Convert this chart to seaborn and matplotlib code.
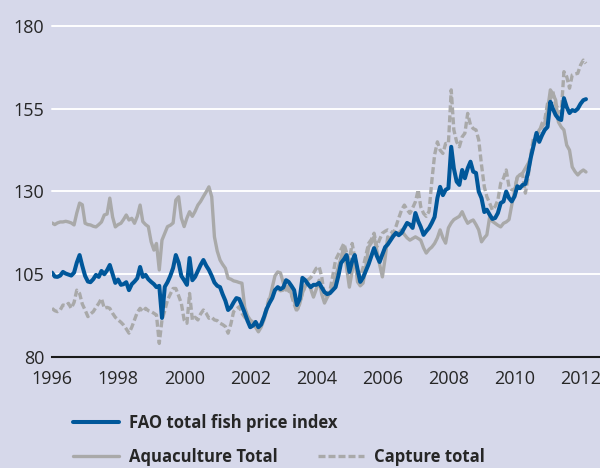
import numpy as np
import pandas as pd
import seaborn as sns
import matplotlib.pyplot as plt
from matplotlib.lines import Line2D

# monthly index values, Jan 1996 - Mar 2012 (one row per year)
fao_index = [
    105.5, 104.3, 104.2, 104.6, 105.7, 105.2, 104.9, 104.6, 105.5, 108.5, 110.8, 107.5,  # 1996
    104.5, 102.8, 102.6, 103.5, 104.8, 104.2, 106.0, 105.0, 106.2, 107.8, 105.0, 102.4,  # 1997
    103.4, 101.8, 102.0, 102.6, 100.2, 102.0, 102.8, 103.8, 107.2, 104.2, 104.8, 103.5,  # 1998
    102.7, 102.0, 101.1, 101.5, 91.8, 101.2, 102.6, 104.5, 106.9, 110.8, 108.5, 104.5,   # 1999
    103.2, 101.8, 109.9, 103.2, 104.2, 106.0, 107.8, 109.3, 107.6, 106.3, 104.5, 102.5,  # 2000
    101.5, 101.1, 99.0, 97.0, 94.2, 95.0, 96.5, 97.8, 97.5, 95.5, 93.3, 91.0,            # 2001
    89.0, 89.5, 90.6, 89.0, 89.8, 92.0, 94.5, 96.3, 97.8, 100.2, 101.1, 100.5,           # 2002
    101.0, 103.2, 102.7, 101.5, 100.2, 95.7, 97.5, 103.9, 103.2, 102.0, 101.1, 101.8,    # 2003
    101.8, 102.4, 101.0, 99.6, 99.0, 99.3, 100.2, 101.1, 104.5, 108.4, 109.5, 110.8,     # 2004
    105.7, 109.0, 110.8, 106.5, 102.7, 104.0, 106.0, 108.0, 110.5, 112.9, 110.5, 108.7,  # 2005
    111.0, 113.2, 114.0, 115.3, 116.5, 117.5, 116.8, 117.5, 119.0, 120.5, 120.0, 119.0,  # 2006
    123.5, 121.0, 119.3, 116.9, 118.0, 119.0, 120.5, 122.3, 128.0, 131.4, 128.9, 130.5,  # 2007
    131.0, 143.5, 137.0, 133.0, 132.0, 136.5, 134.0, 137.0, 139.0, 136.0, 135.6, 130.0,  # 2008
    128.0, 123.8, 124.5, 123.0, 121.7, 122.0, 123.5, 126.5, 127.0, 130.0, 128.0, 127.0,  # 2009
    128.5, 131.6, 131.0, 132.0, 132.3, 136.0, 140.4, 144.0, 147.7, 145.0, 147.0, 148.6,  # 2010
    149.5, 157.1, 155.0, 153.1, 152.0, 151.6, 158.2, 155.5, 153.7, 154.6, 154.3, 155.0,  # 2011
    156.5, 157.6, 157.9,                                                                 # 2012
]

aquaculture = [
    120.5, 120.0, 120.5, 120.8, 120.8, 121.0, 120.8, 120.5, 119.9, 123.5, 126.5, 126.0,  # 1996
    120.4, 120.0, 119.9, 119.5, 119.3, 120.0, 120.8, 122.9, 123.2, 128.0, 122.3, 119.3,  # 1997
    120.0, 120.4, 121.5, 122.9, 121.4, 121.9, 120.4, 122.5, 125.9, 120.9, 120.0, 119.4,  # 1998
    114.8, 112.3, 114.3, 106.3, 115.3, 117.4, 119.4, 119.8, 120.5, 127.4, 128.4, 122.0,  # 1999
    119.4, 122.0, 123.9, 122.5, 124.0, 125.9, 127.0, 128.5, 129.9, 131.4, 128.4, 116.3,  # 2000
    112.0, 109.3, 108.0, 106.8, 103.8, 103.5, 103.0, 102.8, 102.5, 102.3, 95.0, 92.5,    # 2001
    91.2, 90.5, 89.0, 87.6, 89.0, 91.2, 94.0, 97.2, 101.0, 104.5, 105.7, 105.4,          # 2002
    102.4, 100.2, 101.5, 99.0, 97.0, 94.2, 96.0, 99.3, 101.5, 102.4, 100.5, 98.1,        # 2003
    100.5, 103.2, 99.0, 96.3, 98.0, 99.5, 101.2, 104.0, 107.2, 110.0, 113.2, 107.0,      # 2004
    101.1, 106.0, 110.2, 102.7, 101.5, 102.3, 107.0, 113.2, 114.5, 116.3, 112.0, 108.0,  # 2005
    104.2, 110.0, 116.3, 115.5, 117.4, 117.0, 117.5, 118.4, 117.0, 116.0, 115.3, 115.8,  # 2006
    116.3, 115.8, 115.3, 113.0, 111.4, 112.5, 113.2, 114.3, 116.0, 118.4, 116.0, 114.4,  # 2007
    119.0, 120.5, 121.5, 122.0, 122.5, 123.9, 122.0, 120.4, 121.0, 121.4, 120.0, 118.4,  # 2008
    114.8, 116.0, 116.9, 122.3, 121.0, 120.4, 119.8, 119.3, 120.4, 120.8, 121.5, 125.9,  # 2009
    130.0, 134.4, 135.0, 135.6, 137.0, 138.5, 140.4, 144.0, 147.1, 148.6, 149.5, 150.7,  # 2010
    154.6, 160.7, 159.5, 157.6, 151.0, 149.5, 148.6, 144.0, 142.5, 137.4, 136.0, 135.0,  # 2011
    135.9, 136.5, 135.9,                                                                 # 2012
]

capture = [
    94.7, 94.0, 93.7, 94.2, 95.7, 95.5, 96.2, 94.7, 96.5, 100.2, 99.2, 96.0,             # 1996
    94.2, 92.2, 93.0, 93.7, 95.0, 96.2, 97.7, 94.7, 95.0, 94.7, 93.2, 92.0,              # 1997
    91.2, 90.5, 89.7, 88.5, 87.2, 89.0, 91.2, 93.5, 94.7, 93.7, 94.7, 94.0,              # 1998
    93.7, 93.2, 92.7, 84.1, 91.2, 94.0, 97.2, 99.0, 100.7, 100.7, 98.5, 96.2,            # 1999
    91.2, 90.2, 99.2, 91.2, 92.0, 91.2, 93.0, 94.2, 93.2, 91.7, 92.0, 91.2,              # 2000
    91.0, 90.2, 89.8, 89.2, 87.2, 90.0, 93.7, 94.5, 95.2, 93.2, 92.0, 91.2,              # 2001
    90.5, 89.8, 89.2, 88.2, 90.0, 92.2, 95.0, 98.2, 99.0, 100.2, 100.5, 100.0,           # 2002
    100.2, 101.2, 100.0, 98.7, 96.0, 93.7, 96.5, 99.2, 101.5, 103.3, 104.0, 105.3,       # 2003
    106.8, 107.3, 104.3, 98.2, 99.0, 100.2, 104.5, 109.3, 111.0, 112.5, 114.3, 111.5,    # 2004
    109.3, 114.3, 110.0, 106.3, 104.3, 107.0, 110.5, 114.3, 115.5, 117.4, 113.3, 115.5,  # 2005
    117.4, 118.0, 118.4, 118.0, 117.4, 119.5, 122.0, 124.4, 125.9, 124.5, 123.4, 125.0,  # 2006
    126.9, 130.5, 125.4, 123.4, 122.5, 124.0, 133.0, 141.0, 145.0, 142.5, 141.5, 144.5,  # 2007
    144.5, 160.7, 148.6, 145.0, 143.5, 146.5, 147.6, 153.6, 150.1, 149.0, 148.6, 145.6,  # 2008
    138.0, 131.4, 128.4, 126.5, 124.4, 125.5, 127.4, 132.5, 134.0, 136.5, 131.4, 130.5,  # 2009
    130.4, 134.5, 135.0, 135.0, 129.5, 134.5, 141.5, 146.5, 147.0, 148.0, 150.6, 151.6,  # 2010
    156.6, 158.0, 160.2, 156.1, 155.0, 153.6, 166.2, 164.7, 161.2, 165.2, 165.5, 165.7,  # 2011
    168.2, 169.7, 168.7,                                                                 # 2012
]

labels = ["FAO total fish price index", "Aquaculture Total", "Capture total"]
y_ticks = [80, 105, 130, 155, 180]
x_years = list(range(1996, 2013, 2))

dates = pd.date_range("1996-01-01", periods=len(fao_index), freq="MS")

BG = "#d6d8ea"
BLUE = "#00579a"
GREY = "#a9a9a9"
TXT = "#262626"
DASH = (0, (2.1, 0.9))

sns.set_theme(style="white")
plt.rcParams["font.family"] = ["Open Sans", "DejaVu Sans"]

fig = plt.figure(figsize=(6.0, 4.68), dpi=100, facecolor=BG)
ax = fig.add_axes([52 / 600, 1 - 357 / 468, 1 - 52 / 600, (357 - 26) / 468])
ax.set_facecolor(BG)

sns.lineplot(x=dates, y=aquaculture, ax=ax, color=GREY, linewidth=2.4,
             solid_joinstyle="round")
sns.lineplot(x=dates, y=capture, ax=ax, color=GREY, linewidth=2.4,
             linestyle=DASH)
sns.lineplot(x=dates, y=fao_index, ax=ax, color=BLUE, linewidth=2.9,
             solid_joinstyle="round")

ax.set_ylim(80, 180)
ax.set_xlim(pd.Timestamp("1996-01-01"), pd.Timestamp("2012-08-03"))
ax.set_yticks(y_ticks)
ax.set_xticks([pd.Timestamp(f"{y}-01-01") for y in x_years])
ax.set_xticklabels([str(y) for y in x_years])
ax.set_xlabel("")
ax.set_ylabel("")

for v in y_ticks[1:]:
    ax.axhline(v, color="white", linewidth=1.4, zorder=0, clip_on=False)

for s in ["left", "top", "right"]:
    ax.spines[s].set_visible(False)
ax.spines["bottom"].set_color("#1a1a1a")
ax.spines["bottom"].set_linewidth(1.5)

ax.tick_params(axis="x", direction="in", length=6, width=1.5, color="#1a1a1a",
               pad=9, labelsize=13, labelcolor=TXT)
ax.tick_params(axis="y", length=0, pad=5.5, labelsize=13, labelcolor=TXT)

# legend
h_fao = Line2D([], [], color=BLUE, linewidth=2.9)
h_aqua = Line2D([], [], color=GREY, linewidth=2.4)
h_cap = Line2D([], [], color=GREY, linewidth=2.4, linestyle=DASH)
leg_kw = dict(frameon=False, loc="center left", borderpad=0, borderaxespad=0,
              handlelength=2.75, handletextpad=0.6,
              prop={"weight": "bold", "size": 12})
l1 = fig.legend([h_fao], [labels[0]], bbox_to_anchor=(73 / 600, 1 - 423 / 468), **leg_kw)
l2 = fig.legend([h_aqua], [labels[1]], bbox_to_anchor=(73 / 600, 1 - 457 / 468), **leg_kw)
l3 = fig.legend([h_cap], [labels[2]], bbox_to_anchor=(318 / 600, 1 - 457 / 468), **leg_kw)
for lg in (l1, l2, l3):
    for t in lg.get_texts():
        t.set_color(TXT)

fig.savefig("out.png", dpi=100, facecolor=BG)
